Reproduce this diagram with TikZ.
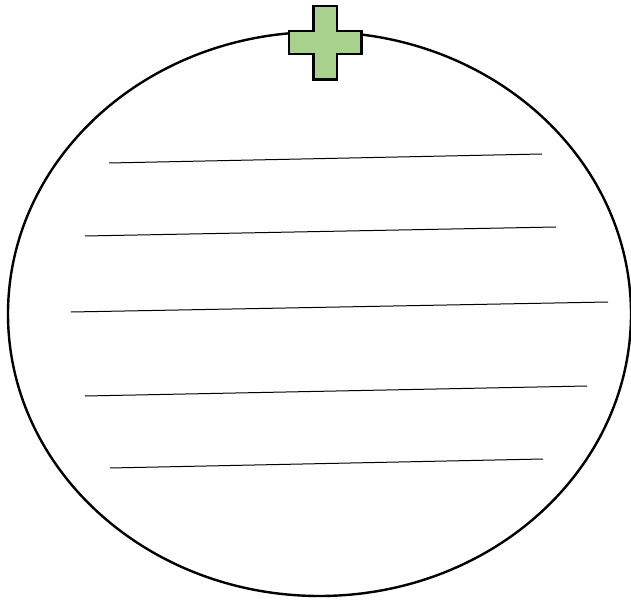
\documentclass[tikz,border=0pt]{standalone}
\definecolor{crossgreen}{RGB}{169,209,142}
\tikzset{
  outline/.style={draw=black, line width=2.4pt},
  ruleline/.style={draw=black, line width=1pt},
  crossshape/.style={draw=black, line width=2.2pt, fill=crossgreen, line join=miter}
}
\begin{document}
\begin{tikzpicture}[x=1pt,y=-1pt]
\useasboundingbox (0,0) rectangle (631,601);
\draw[outline] (319.5,314) ellipse [x radius=311.5, y radius=282];
\draw[ruleline] (109,163) -- (542,154);
\draw[ruleline] (85,236) -- (556,227);
\draw[ruleline] (71,312) -- (608,302);
\draw[ruleline] (85,396) -- (587,386);
\draw[ruleline] (110,468) -- (543,459);
\draw[crossshape] (313.5,6) -- (337,6) -- (337,31) -- (361.5,31) -- (361.5,54) -- (337,54) -- (337,79.5) -- (313.5,79.5) -- (313.5,54) -- (289,54) -- (289,31) -- (313.5,31) -- cycle;
\end{tikzpicture}
\end{document}
